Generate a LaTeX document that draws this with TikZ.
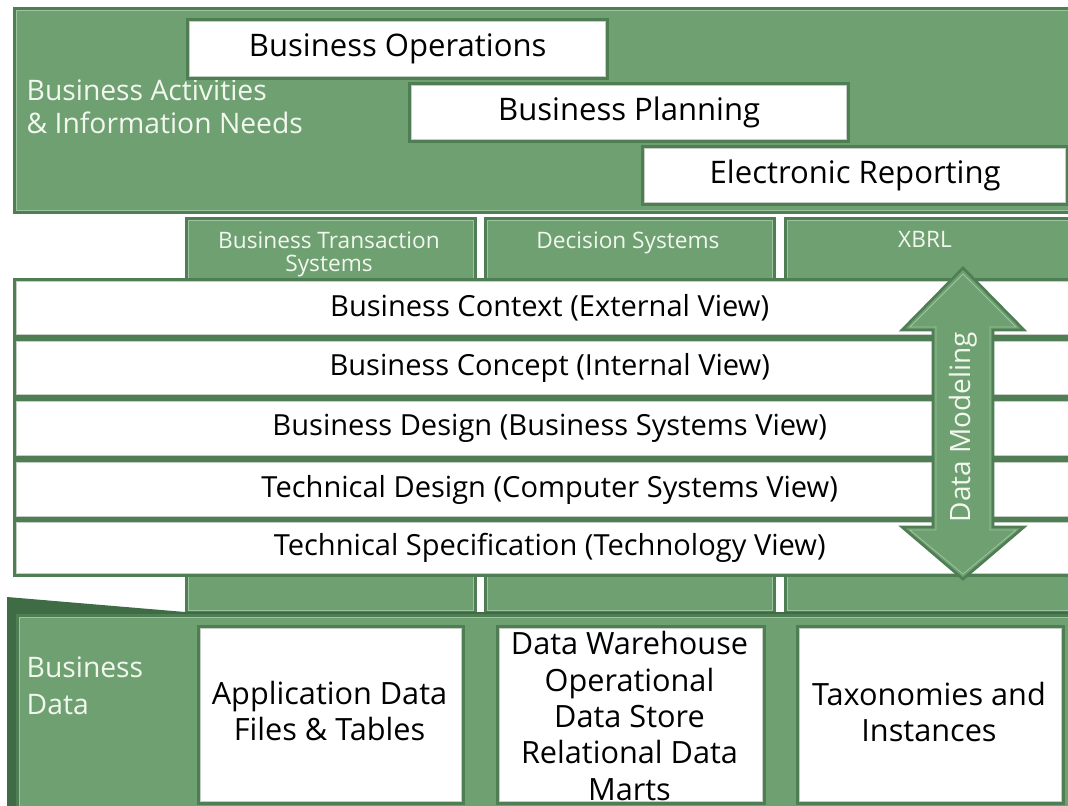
\documentclass[tikz,border=0pt]{standalone}
\usepackage{fontspec}
\setmainfont{Open Sans}
\definecolor{gfill}{HTML}{6FA072}
\definecolor{gdark}{HTML}{4F7D54}
\definecolor{gshadow}{HTML}{3F6B45}
\definecolor{gline}{HTML}{9CC49E}
\definecolor{wline}{HTML}{C4CEC4}
\definecolor{gtext}{HTML}{F3F8EF}
\newcommand\mkbox[7]{\node[#6, anchor=north west, minimum width={(#4-#2)*0.75pt}, minimum height={(#5-#3)*0.75pt}] (#1) at (#2,#3) {#7};}
\newcommand\inset[2]{\draw[#2] ([shift={(3.5,3.5)}]#1.north west) rectangle ([shift={(-3.5,-3.5)}]#1.south east);}
\tikzset{
  greenbox/.style={fill=gfill, draw=gdark, line width=3pt, inner sep=0pt},
  whitebox/.style={fill=white, draw=gdark, line width=2.5pt, inner sep=0pt, text=black},
  gin/.style={draw=gline, line width=0.8pt},
  win/.style={draw=wline, line width=0.8pt},
  toptxt/.style={font=\fontsize{23.3}{27}\selectfont},
  rowtxt/.style={font=\fontsize{21.8}{26}\selectfont},
  tabtxt/.style={font=\fontsize{17}{17.5}\selectfont, text=gtext, align=center},
  sidetxt/.style={font=\fontsize{21.2}{24.5}\selectfont, text=gtext, align=left},
  bottxt/.style={font=\fontsize{23}{27.6}\selectfont, align=center},
}
\begin{document}
\begin{tikzpicture}[x=0.75pt,y=-0.75pt]
\useasboundingbox (0,0) rectangle (1068,806);
\clip (0,0) rectangle (1068,806);
% top section
\mkbox{top}{13}{7}{1080}{210}{greenbox}{}
\inset{top}{gin}
\node[sidetxt, anchor=west] (act) at (22,107) {Business Activities\\\& Information Needs};
\mkbox{ops}{186}{18}{606}{77}{whitebox,toptxt}{Business Operations}
\inset{ops}{win}
\mkbox{plan}{408}{82}{847}{140}{whitebox,toptxt}{Business Planning}
\inset{plan}{win}
\mkbox{erep}{641}{145}{1066}{203}{whitebox,toptxt}{Electronic Reporting}
\inset{erep}{win}
% columns
\mkbox{tabA}{185}{217}{473}{610}{greenbox}{}
\inset{tabA}{gin}
\mkbox{tabB}{484}{217}{772}{610}{greenbox}{}
\inset{tabB}{gin}
\mkbox{tabC}{784}{217}{1080}{610}{greenbox}{}
\inset{tabC}{gin}
\node[tabtxt, anchor=north] (tA) at (329,227) {Business Transaction\\Systems};
\node[tabtxt, anchor=north] (tB) at (628,227) {Decision Systems};
\node[tabtxt, anchor=north] (tC) at (925,227) {XBRL};
% rows
\mkbox{r1}{13}{278}{1083}{335}{whitebox,rowtxt}{Business Context (External View)}
\inset{r1}{win}
\mkbox{r2}{13}{338}{1083}{395}{whitebox,rowtxt}{Business Concept (Internal View)}
\inset{r2}{win}
\mkbox{r3}{13}{398}{1083}{456}{whitebox,rowtxt}{Business Design (Business Systems View)}
\inset{r3}{win}
\mkbox{r4}{13}{459}{1083}{517}{whitebox,rowtxt}{Technical Design (Computer Systems View)}
\inset{r4}{win}
\mkbox{r5}{13}{519}{1083}{574}{whitebox,rowtxt}{Technical Specification (Technology View)}
\inset{r5}{win}
% arrow
\draw[fill=gfill, draw=gdark, line width=2pt, line join=miter]
  (963,268) -- (1024,330) -- (993,330) -- (993,527) -- (1024,527) -- (963,579)
  -- (902,527) -- (933,527) -- (933,330) -- (902,330) -- cycle;
\draw[draw=gline, line width=0.6pt]
  (963,274) -- (1016,327) -- (990,327) -- (990,530) -- (1016,530) -- (963,574)
  -- (910,530) -- (936,530) -- (936,327) -- (910,327) -- cycle;
\node[rotate=90, font=\fontsize{21}{24}\selectfont, text=gtext] (dm) at (963,427) {Data Modeling};
% bottom section
\fill[gshadow] (7,597) -- (185,612) -- (1080,612) -- (1080,812) -- (7,812) -- cycle;
\mkbox{bot}{16}{614}{1080}{812}{greenbox}{}
\inset{bot}{gin}
\node[sidetxt, anchor=west, font=\fontsize{21.2}{27.6}\selectfont] (bd) at (22,686) {Business\\Data};
\mkbox{bA}{197}{625}{462}{802}{whitebox}{}
\inset{bA}{win}
\node[bottxt] (tbA) at (329.5,711) {Application Data\\Files \& Tables};
\mkbox{bB}{496}{625}{763}{802}{whitebox}{}
\inset{bB}{win}
\node[bottxt, font=\fontsize{23}{27.2}\selectfont] (tbB) at (629.5,716) {Data Warehouse\\Operational\\Data Store\\Relational Data\\Marts};
\mkbox{bC}{796}{625}{1062}{802}{whitebox}{}
\inset{bC}{win}
\node[bottxt] (tbC) at (929,712) {Taxonomies and\\Instances};
\end{tikzpicture}
\end{document}
